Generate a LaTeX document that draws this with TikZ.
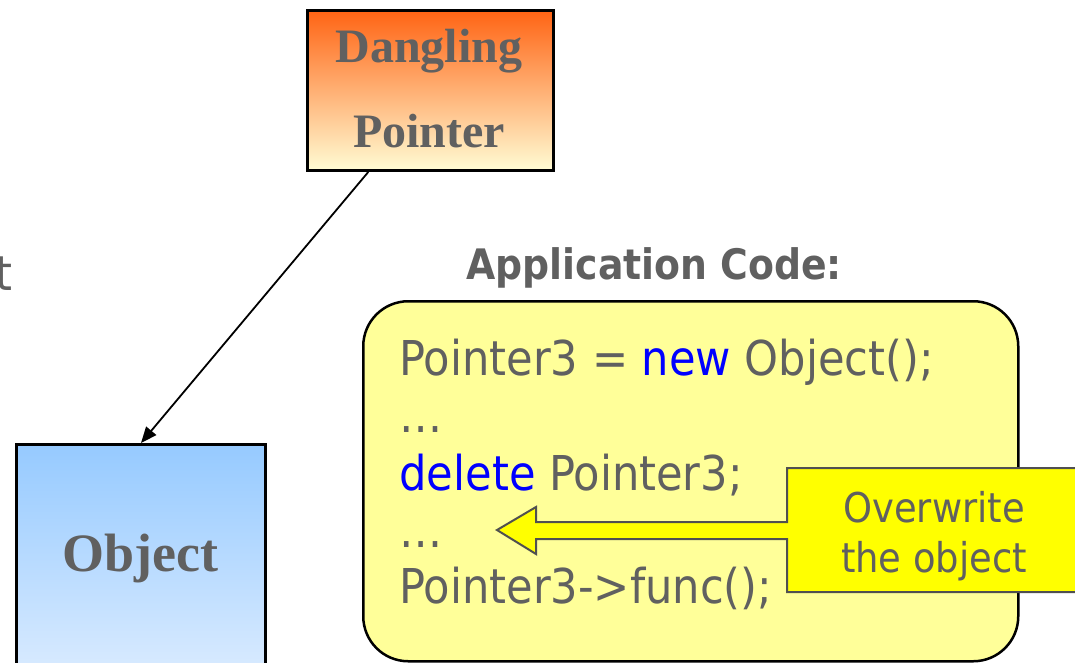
\documentclass[tikz,border=0pt]{standalone}
\usepackage{fontspec}
\setmainfont{Liberation Serif}
\newfontfamily\codefont{DejaVu Sans Condensed}
\usetikzlibrary{arrows.meta,calc}

\definecolor{txtgray}{RGB}{96,96,96}
\definecolor{kwblue}{RGB}{0,0,255}
\definecolor{codefill}{RGB}{255,255,153}
\definecolor{callfill}{RGB}{255,255,0}
\definecolor{callline}{RGB}{80,80,80}
\definecolor{orangetop}{RGB}{255,100,20}
\definecolor{orangemid}{RGB}{255,190,150}
\definecolor{orangebot}{RGB}{255,252,212}
\definecolor{bluetop}{RGB}{150,202,255}
\definecolor{bluebot}{RGB}{226,239,255}

\tikzset{
  blockbox/.style={rectangle, draw=black, line width=3pt, inner sep=0pt, anchor=north west},
  serifbold/.style={font=\fontsize{48}{48}\selectfont\bfseries, text=txtgray, anchor=base},
  codeline/.style={font=\codefont\fontsize{48}{48}\selectfont, text=txtgray, anchor=base west},
  calltext/.style={font=\codefont\fontsize{41}{41}\selectfont, text=txtgray, anchor=base},
}

\begin{document}
\begin{tikzpicture}[x=1pt,y=-1pt]
\useasboundingbox (0,0) rectangle (1075,662);
\clip (0,0) rectangle (1075,662);

% tail of a word cut off at the left edge
\node[codeline, anchor=base east] (tail) at (16,290) {t};

% pointer and object boxes
\node[blockbox, minimum width=246pt, minimum height=160pt,
      top color=orangetop, middle color=orangemid, bottom color=orangebot] (dp) at (306,9) {};
\node[serifbold] (dp1) at (429,62) {Dangling};
\node[serifbold] (dp2) at (429,147) {Pointer};

\node[blockbox, minimum width=249pt, minimum height=260pt,
      top color=bluetop, bottom color=bluebot] (obj) at (15,443) {};
\node[serifbold, font=\fontsize{54}{54}\selectfont\bfseries] (objlbl) at (140,571) {Object};

\draw[line width=1.8pt, -{Triangle[length=16pt,width=13pt]}]
  ($(dp.south west)!0.25!(dp.south east)$) -- (obj.north);

% application code
\node[font=\codefont\fontsize{42}{42}\selectfont\bfseries, text=txtgray, anchor=base west]
  (apptitle) at (463,279) {Application Code:};

\node[rectangle, draw=black, line width=2.5pt, rounded corners=45pt, fill=codefill,
      minimum width=655pt, minimum height=360pt, anchor=north west, inner sep=0pt]
  (code) at (362,300) {};

\node[codeline] (l1) at (396,375) {Pointer3 = \textcolor{kwblue}{new} Object();};
\node[codeline] (l2) at (396,432) {…};
\node[codeline] (l3) at (396,490) {\textcolor{kwblue}{delete} Pointer3;};
\node[codeline] (l4) at (396,547) {…};
\node[codeline] (l5) at (396,603) {Pointer3->func();};

% callout with its arrow
\draw[line width=2pt, draw=callline, fill=callfill]
  (1095,468) -- (787,468) -- (787,522) -- (536,522) -- (536,507) -- (497,530)
  -- (536,554) -- (536,539) -- (787,539) -- (787,592) -- (1095,592) -- cycle;
\node[calltext] (c1) at (934,522) {Overwrite};
\node[calltext] (c2) at (934,572) {the object};
\end{tikzpicture}
\end{document}
